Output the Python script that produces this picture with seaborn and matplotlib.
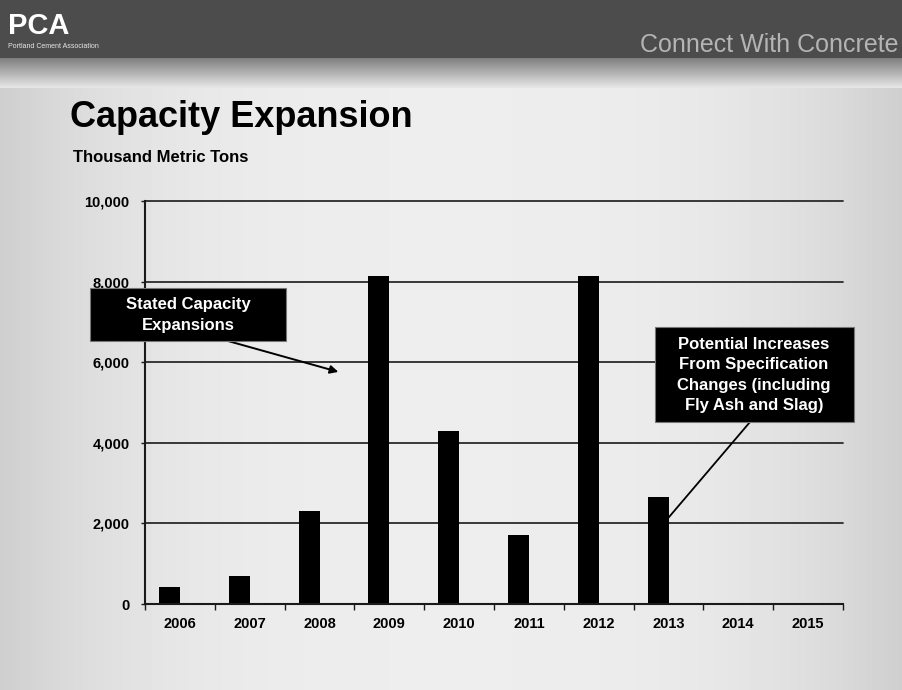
import numpy as np
import pandas as pd
import matplotlib
matplotlib.use("Agg")
import matplotlib.pyplot as plt
from matplotlib.patches import Rectangle
import seaborn as sns

# Chart data
years = ["2006", "2007", "2008", "2009", "2010", "2011", "2012", "2013", "2014", "2015"]
stated = [420, 700, 2300, 8150, 4300, 1700, 8150, 2650, 0, 0]
potential = [0, 0, 0, 0, 0, 0, 0, 0, 0, 0]
y_ticks = [0, 2000, 4000, 6000, 8000, 10000]

title = "Capacity Expansion"
subtitle = "Thousand Metric Tons"
note_stated = "Stated Capacity\nExpansions"
note_potential = "Potential Increases\nFrom Specification\nChanges (including\nFly Ash and Slag)"

df = pd.DataFrame({
    "year": years * 2,
    "value": stated + potential,
    "series": ["Stated"] * len(years) + ["Potential"] * len(years),
})

sns.set_theme(style="white")
plt.rcParams["font.family"] = ["Liberation Sans", "DejaVu Sans"]

W, H = 903, 690
fig = plt.figure(figsize=(W / 100, H / 100), dpi=100)

# background: dark header band + light speckled slide tone
bg = fig.add_axes([0, 0, 1, 1], zorder=-10)
rows = np.ones(H) * 0.93
rows[:58] = 0.3
rows[58:88] = np.linspace(0.5, 0.9, 30)
cols = 1.0 - 0.13 * np.abs(np.linspace(-1, 1, W)) ** 3
img = np.outer(rows, np.ones(W))
img[88:] = img[88:] * cols
bg.imshow(img, cmap="gray", vmin=0, vmax=1, aspect="auto", interpolation="bilinear")
bg.axis("off")

# header texts
fig.text(8 / W, 1 - 34 / H, "PCA", color="white", fontsize=21, fontweight="bold", va="baseline")
fig.text(8 / W, 1 - 48 / H, "Portland Cement Association", color="#e8e8e8", fontsize=5, va="baseline")
fig.text(899 / W, 1 - 52 / H, "Connect With Concrete", color="#b4b4b4", fontsize=18, ha="right", va="baseline")

fig.text(70 / W, 1 - 127 / H, title, fontsize=26, fontweight="bold", color="black", va="baseline")
fig.text(73 / W, 1 - 162 / H, subtitle, fontsize=12, fontweight="bold", color="black", va="baseline")

ax = fig.add_axes([145 / W, 1 - 604 / H, 698 / W, 403 / H])
ax.set_facecolor("none")

sns.barplot(data=df, x="year", y="value", hue="series", hue_order=["Stated", "Potential"],
            palette=["black", "black"], width=0.6, dodge=True, legend=False,
            linewidth=0, saturation=1, ax=ax)

ax.set_xlim(-0.5, len(years) - 0.5)
ax.set_ylim(0, 10000)
ax.set_yticks(y_ticks)
ax.set_yticklabels([f"{v:,}" for v in y_ticks])
ax.yaxis.grid(True, color="#2a2a2a", linewidth=1.3)
for gl in ax.get_ygridlines():
    gl.set_clip_on(False)
ax.set_axisbelow(True)
ax.set_xlabel("")
ax.set_ylabel("")

for side in ["top", "right"]:
    ax.spines[side].set_visible(False)
for side in ["left", "bottom"]:
    ax.spines[side].set_color("#1a1a1a")
    ax.spines[side].set_linewidth(1.5)

ax.set_xticks(np.arange(-0.5, len(years) + 0.5, 1), minor=True)
ax.tick_params(axis="x", which="major", length=0, pad=9)
ax.tick_params(axis="x", which="minor", length=4, width=1, color="#1a1a1a", direction="out")
ax.tick_params(axis="y", length=3, width=1, color="#1a1a1a", direction="out", pad=8)
ax.tick_params(bottom=True, left=True, which="both")
for lab in ax.get_xticklabels() + ax.get_yticklabels():
    lab.set_fontweight("bold")
    lab.set_fontsize(10.5)
    lab.set_color("black")

# annotation boxes
def fig_box(x0, y0, x1, y1):
    fig.patches.append(Rectangle((x0 / W, 1 - y1 / H), (x1 - x0) / W, (y1 - y0) / H,
                                 transform=fig.transFigure, facecolor="black",
                                 edgecolor="#777777", linewidth=0.8, zorder=5))

fig_box(90, 288, 286, 341)
fig.text(188 / W, 1 - 315 / H, note_stated, color="white", fontsize=12, fontweight="bold",
         ha="center", va="center", linespacing=1.45, zorder=6)
ax.annotate("", xy=(2.27, 5760), xycoords="data", xytext=(228, H - 341),
            textcoords="figure pixels",
            arrowprops=dict(arrowstyle="-|>", color="black", lw=1.4, mutation_scale=12,
                            shrinkA=0, shrinkB=0))

fig_box(655, 327, 854, 422)
fig.text(754 / W, 1 - 375 / H, note_potential, color="white", fontsize=12, fontweight="bold",
         ha="center", va="center", linespacing=1.45, zorder=6)
ax.annotate("", xy=(6.93, 2000), xycoords="data", xytext=(750, H - 422),
            textcoords="figure pixels",
            arrowprops=dict(arrowstyle="-", color="black", lw=1.3, shrinkA=0, shrinkB=0))

fig.savefig("out.png", dpi=100)
